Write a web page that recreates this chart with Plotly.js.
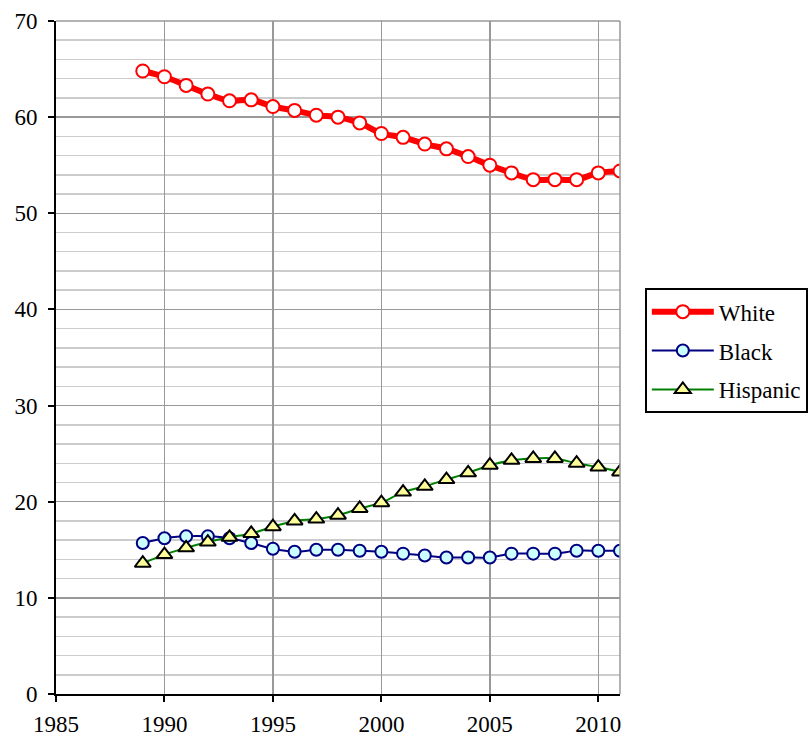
<!DOCTYPE html>
<html>
<head>
<meta charset="utf-8">
<script src="https://cdn.plot.ly/plotly-3.0.1.min.js"></script>
<style>html,body{margin:0;padding:0;background:#fff;}#chart{width:810px;height:738px;}</style>
</head>
<body>
<div id="chart"></div>
<script>
const years = [1989,1990,1991,1992,1993,1994,1995,1996,1997,1998,1999,2000,2001,2002,2003,2004,2005,2006,2007,2008,2009,2010,2011];
const white = [64.8,64.2,63.3,62.4,61.7,61.8,61.1,60.7,60.2,60.0,59.4,58.3,57.9,57.2,56.7,55.9,55.0,54.2,53.5,53.5,53.5,54.2,54.4];
const black = [15.7,16.2,16.4,16.4,16.2,15.7,15.1,14.8,15.0,15.0,14.9,14.8,14.6,14.4,14.2,14.2,14.2,14.6,14.6,14.6,14.9,14.9,14.9];
const hispanic = [13.6,14.5,15.2,15.8,16.3,16.7,17.4,18.0,18.2,18.6,19.3,19.9,21.0,21.6,22.3,23.0,23.8,24.3,24.5,24.5,24.0,23.6,23.1];
const seriesNames = ['White','Black','Hispanic'];

const traces = [
  {x: years, y: white, name: seriesNames[0], mode: 'lines+markers', legendgroup: 'a',
   line: {color: '#ff0000', width: 6, shape: 'spline', smoothing: 0.8},
   marker: {symbol: 'circle', size: 13, color: '#ffffff', line: {color: '#ff0000', width: 2}}},
  {x: years, y: black, name: seriesNames[1], mode: 'lines+markers', legendgroup: 'b',
   line: {color: '#000080', width: 2, shape: 'spline', smoothing: 0.8},
   marker: {symbol: 'circle', size: 12, color: '#ccffff', line: {color: '#000080', width: 2}}},
  {x: years, y: hispanic, name: seriesNames[2], mode: 'lines+markers', legendgroup: 'c',
   line: {color: '#008000', width: 2, shape: 'spline', smoothing: 0.8},
   marker: {symbol: 'triangle-up', size: 14, color: '#ffff99', line: {color: '#000000', width: 2}}}
];

const layout = {
  width: 810, height: 738,
  margin: {l: 56, r: 190, t: 21, b: 44, pad: 0, autoexpand: false},
  paper_bgcolor: '#ffffff', plot_bgcolor: '#ffffff',
  font: {family: '"Liberation Serif", "Times New Roman", serif', size: 23, color: '#000000'},
  showlegend: true,
  legend: {x: 1.044, y: 0.603, xanchor: 'left', yanchor: 'top', bordercolor: '#000000', borderwidth: 2,
           bgcolor: '#ffffff', font: {family: '"Liberation Serif", serif', size: 23, color: '#000'},
           tracegroupgap: 6, traceorder: 'grouped', itemwidth: 62},
  xaxis: {range: [1985, 2011], tickmode: 'linear', tick0: 1985, dtick: 5,
          showgrid: true, gridcolor: '#999999', gridwidth: 1.5,
          showline: true, linecolor: '#000000', linewidth: 2,
          ticks: 'outside', ticklen: 6, tickwidth: 2, tickcolor: '#000000',
          zeroline: false, fixedrange: true, ticklabelstandoff: 2},
  yaxis: {range: [0, 70], tickmode: 'linear', tick0: 0, dtick: 10,
          showgrid: true, gridcolor: '#999999', gridwidth: 1.5,
          minor: {dtick: 2, showgrid: true, gridcolor: '#cccccc', gridwidth: 1.5, ticks: ''},
          showline: true, linecolor: '#000000', linewidth: 2,
          ticks: 'outside', ticklen: 6, tickwidth: 2, tickcolor: '#000000',
          zeroline: false, fixedrange: true, ticklabelstandoff: 6},
  shapes: [
    {type: 'line', xref: 'paper', yref: 'paper', x0: 1, x1: 1, y0: 0, y1: 1, line: {color: '#999999', width: 1.5}},
    {type: 'line', xref: 'paper', yref: 'paper', x0: 0, x1: 1, y0: 1, y1: 1, line: {color: '#999999', width: 1.5}}
  ]
};

Plotly.newPlot('chart', traces, layout, {displayModeBar: false, staticPlot: true});
</script>
</body>
</html>
